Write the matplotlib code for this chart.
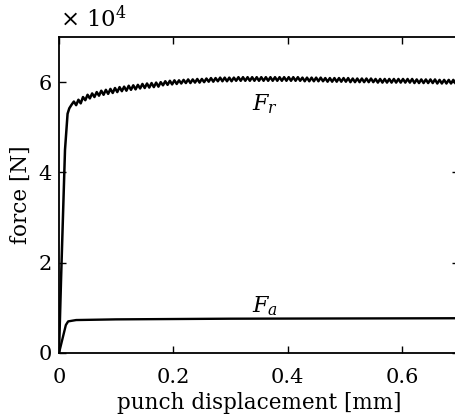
import numpy as np
import matplotlib
matplotlib.use("Agg")
import matplotlib.pyplot as plt

plt.rcParams["font.family"] = ["DejaVu Serif"]
plt.rcParams["mathtext.fontset"] = "dejavuserif"

# Radial force F_r: initial loading ramp, then the rippled plateau sampled
# every 0.004 mm starting at 0.022 mm (values in units of 1e4 N)
fr_ramp_x = [0.0, 0.0035, 0.0105, 0.015, 0.018]
fr_ramp_y = [0.0, 1.6, 4.5, 5.3, 5.42]
fr_plateau_x0 = 0.022
fr_plateau_step = 0.004
fr_plateau_y = [
    5.50, 5.57, 5.49, 5.61, 5.53, 5.67, 5.60, 5.72, 5.64, 5.75,
    5.67, 5.78, 5.70, 5.81, 5.72, 5.83, 5.74, 5.85, 5.76, 5.87,
    5.78, 5.89, 5.80, 5.90, 5.81, 5.92, 5.83, 5.93, 5.84, 5.94,
    5.86, 5.96, 5.87, 5.97, 5.88, 5.98, 5.89, 5.99, 5.90, 6.00,
    5.93, 6.02, 5.94, 6.03, 5.95, 6.04, 5.96, 6.04, 5.97, 6.05,
    5.98, 6.06, 5.98, 6.06, 5.99, 6.07, 5.99, 6.07, 6.00, 6.08,
    6.01, 6.09, 6.01, 6.09, 6.02, 6.10, 6.02, 6.10, 6.02, 6.10,
    6.02, 6.10, 6.03, 6.11, 6.03, 6.11, 6.03, 6.11, 6.03, 6.11,
    6.03, 6.11, 6.03, 6.11, 6.03, 6.11, 6.03, 6.11, 6.03, 6.11,
    6.03, 6.11, 6.03, 6.11, 6.03, 6.11, 6.03, 6.11, 6.03, 6.11,
    6.03, 6.10, 6.02, 6.10, 6.02, 6.10, 6.02, 6.10, 6.02, 6.10,
    6.02, 6.09, 6.01, 6.09, 6.01, 6.09, 6.01, 6.09, 6.01, 6.09,
    6.01, 6.09, 6.00, 6.08, 6.00, 6.08, 6.00, 6.08, 6.00, 6.08,
    6.00, 6.08, 6.00, 6.07, 5.99, 6.07, 5.99, 6.07, 5.99, 6.07,
    5.99, 6.07, 5.99, 6.07, 5.99, 6.07, 5.99, 6.07, 5.99, 6.07,
    5.98, 6.06, 5.98, 6.06, 5.98, 6.06, 5.98, 6.06, 5.98, 6.06,
    5.97, 6.05, 5.97, 6.05, 5.97, 6.05, 5.97, 6.05, 5.97, 6.05,
]

# Axial force F_a (units of 1e4 N)
fa_x = [0.0, 0.012, 0.016, 0.03, 0.1, 0.3, 0.5, 0.7]
fa_y = [0.0, 0.62, 0.70, 0.73, 0.745, 0.76, 0.765, 0.77]

x_ticks = [0, 0.2, 0.4, 0.6]
x_tick_labels = ["0", "0.2", "0.4", "0.6"]
y_ticks = [0, 2, 4, 6]
y_tick_labels = ["0", "2", "4", "6"]

fr_x = list(fr_ramp_x) + list(fr_plateau_x0 + fr_plateau_step * np.arange(len(fr_plateau_y)))
fr_y = list(fr_ramp_y) + list(fr_plateau_y)

fig = plt.figure(figsize=(4.55, 4.18), dpi=100)
ax = fig.add_axes([59 / 455, 65 / 418, 400 / 455, 316 / 418])

ax.plot(fr_x, fr_y, color="black", lw=1.8, solid_joinstyle="round")
ax.plot(fa_x, fa_y, color="black", lw=1.7, solid_joinstyle="round")

ax.set_xlim(0, 0.7)
ax.set_ylim(0, 7)
ax.set_xticks(x_ticks)
ax.set_xticklabels(x_tick_labels)
ax.set_yticks(y_ticks)
ax.set_yticklabels(y_tick_labels)
ax.tick_params(direction="in", length=5, width=1.0, top=True, right=True,
               labelsize=15)
ax.tick_params(axis="x", pad=10.5)
ax.tick_params(axis="y", pad=5)
for sp in ax.spines.values():
    sp.set_linewidth(1.3)

ax.set_xlabel("punch displacement [mm]", fontsize=15.5, labelpad=4)
ax.set_ylabel("force [N]", fontsize=15.5, labelpad=5)

ax.text(0.36, 5.51, r"$F_r$", fontsize=16, ha="center", va="center")
ax.text(0.36, 1.04, r"$F_a$", fontsize=16, ha="center", va="center")

fig.text(60 / 455, 1 - 19 / 418, r"$\times\ 10^{4}$", fontsize=16.5,
         ha="left", va="center")

fig.savefig("out.png", dpi=100)
